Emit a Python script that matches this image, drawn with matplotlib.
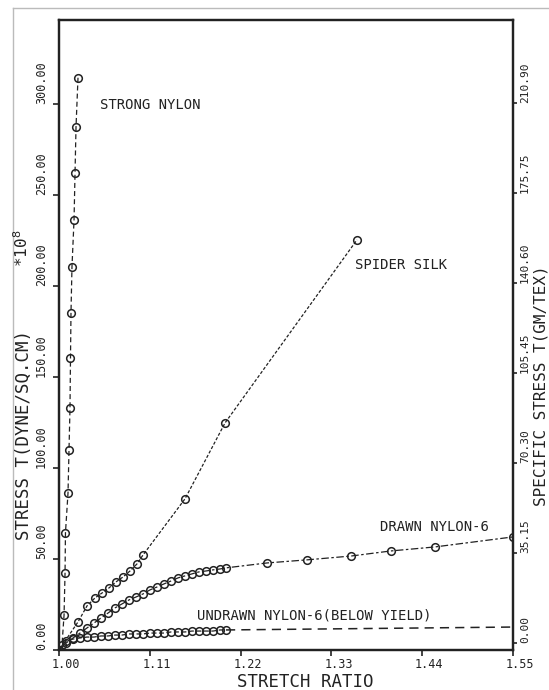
import matplotlib
matplotlib.use("Agg")
import matplotlib.pyplot as plt
import matplotlib.transforms as mtrans
from matplotlib.lines import Line2D

plt.rcParams['font.family'] = ['DejaVu Sans Mono']
plt.rcParams['mathtext.fontset'] = 'dejavusans'

# stretch ratio / stress (dyne/sq.cm *1e8)
strong_x = [1.000, 1.0036, 1.0061, 1.0073, 1.0078, 1.0109, 1.0121, 1.0133,
            1.0139, 1.0145, 1.0157, 1.0182, 1.0194, 1.0206, 1.0230]
strong_y = [0, 2.7, 19.2, 42.3, 64.3, 86.3, 109.9, 133.0,
            160.4, 185.2, 210.4, 236.3, 262.1, 287.4, 314.3]

silk_x = [1.000, 1.0230, 1.0339, 1.0436, 1.0521, 1.0606, 1.0691, 1.0775,
          1.0860, 1.0945, 1.1018, 1.1526, 1.2011, 1.3610]
silk_y = [0, 15.4, 24.2, 28.6, 31.3, 34.1, 37.4, 40.1,
          43.4, 47.3, 52.2, 83.0, 124.7, 225.3]

drawn_x = [1.0000, 1.0085, 1.0170, 1.0254, 1.0339, 1.0424, 1.0509, 1.0594,
           1.0678, 1.0763, 1.0848, 1.0933, 1.1018, 1.1102, 1.1187, 1.1272,
           1.1357, 1.1442, 1.1526, 1.1611, 1.1696, 1.1781, 1.1866, 1.1951,
           1.2023, 1.2520, 1.3004, 1.3538, 1.4022, 1.4555, 1.5500]
drawn_y = [0, 3.8, 6.6, 9.3, 12.1, 14.8, 17.6, 20.3,
           23.1, 25.3, 27.5, 29.1, 30.8, 33.0, 34.6, 36.3,
           37.9, 39.6, 40.7, 41.8, 42.9, 43.4, 44.0, 44.5,
           45.1, 47.8, 49.5, 51.6, 54.4, 56.6, 62.1]

undrawn_x = drawn_x[:25]
undrawn_y = [0, 4.9, 6.0, 6.6, 7.1, 7.1, 7.7, 7.7, 8.2, 8.2, 8.8, 8.8, 8.8,
             9.3, 9.3, 9.3, 9.9, 9.9, 9.9, 10.4, 10.4, 10.4, 10.4, 11.0, 11.0]
# dashed continuation without markers
undrawn_tail_x = [1.2023, 1.55]
undrawn_tail_y = [11.0, 12.6]

x_ticks = [1.00, 1.11, 1.22, 1.33, 1.44, 1.55]
x_labels = ["1.00", "1.11", "1.22", "1.33", "1.44", "1.55"]
left_ticks = [0, 50, 100, 150, 200, 250, 300]
left_labels = ["0.00", "50.00", "100.00", "150.00", "200.00", "250.00", "300.00"]
right_ticks = [0, 35.15, 70.30, 105.45, 140.60, 175.75, 210.90]
right_labels = ["0.00", "35.15", "70.30", "105.45", "140.60", "175.75", "210.90"]

ink = '#222222'

fig = plt.figure(figsize=(5.49, 6.9), dpi=100)
ax = fig.add_axes([0.1075, 0.058, 0.827, 0.913])

mk = dict(marker='o', ms=5.5, mfc='none', mec=ink, mew=1.1, color=ink, lw=0.9)
ax.plot(strong_x, strong_y, linestyle=(0, (4, 2.5)), **mk)
ax.plot(silk_x, silk_y, linestyle=(0, (2.5, 1.5)), **mk)
ax.plot(drawn_x, drawn_y, linestyle=(0, (6, 2, 2, 2)), **mk)
ax.plot(undrawn_x, undrawn_y, linestyle=(0, (4, 2)), **mk)
ax.plot(undrawn_tail_x, undrawn_tail_y, color=ink, lw=1.1, linestyle=(0, (6, 4)))

ax.text(1.0497, 299.5, "STRONG NYLON", fontsize=10, va='center', color=ink)
ax.text(1.3586, 211.5, "SPIDER SILK", fontsize=10, va='center', color=ink)
ax.text(1.3889, 67.6, "DRAWN NYLON-6", fontsize=10, va='center', color=ink)
ax.text(1.1672, 18.7, "UNDRAWN NYLON-6(BELOW YIELD)", fontsize=10, va='center', color=ink)

ax.set_xlim(1.0, 1.55)
ax.set_ylim(0, 346)
ax.set_xticks(x_ticks, x_labels, fontsize=8.5)
ax.set_yticks(left_ticks, left_labels, fontsize=8.5)
ax.tick_params(axis='both', direction='out', length=4, width=1.2, colors=ink)
ax.tick_params(axis='y', pad=4)
ax.tick_params(axis='x', pad=2)
for lab in ax.get_yticklabels():
    lab.set(rotation=90, rotation_mode='anchor', ha='left', va='bottom')
offset = mtrans.ScaledTranslation(0.07, 0, fig.dpi_scale_trans)
for lab in ax.get_xticklabels():
    lab.set_transform(lab.get_transform() + offset)

ax2 = ax.twinx()
ax2.set_ylim(-2.7, 243.3)
ax2.set_yticks(right_ticks, right_labels, fontsize=8)
ax2.tick_params(axis='y', direction='out', length=3, width=1.2, colors=ink, pad=2)
for lab in ax2.get_yticklabels():
    lab.set(rotation=90, rotation_mode='anchor', ha='left', va='top')

for a in (ax, ax2):
    for s in a.spines.values():
        s.set_linewidth(1.6)
        s.set_color(ink)

fig.text(0.5565, 0.012, "STRETCH RATIO", fontsize=12.5, ha='center', va='center', color=ink)
fig.text(0.043, 0.3696, "STRESS T(DYNE/SQ.CM)", fontsize=12.5, rotation=90,
         ha='center', va='center', color=ink)
fig.text(0.040, 0.6406, r"*10$^{8}$", fontsize=11.5, rotation=90,
         ha='center', va='center', color=ink)
fig.text(0.9855, 0.4406, "SPECIFIC STRESS T(GM/TEX)", fontsize=11.5, rotation=90,
         ha='center', va='center', color=ink)

# faint scan border
fig.add_artist(Line2D([13 / 549, 13 / 549], [0, 1 - 8 / 690], transform=fig.transFigure,
                      color='#bbbbbb', lw=1))
fig.add_artist(Line2D([13 / 549, 1], [1 - 8 / 690, 1 - 8 / 690], transform=fig.transFigure,
                      color='#bbbbbb', lw=1))

fig.savefig("out.png", dpi=100)
